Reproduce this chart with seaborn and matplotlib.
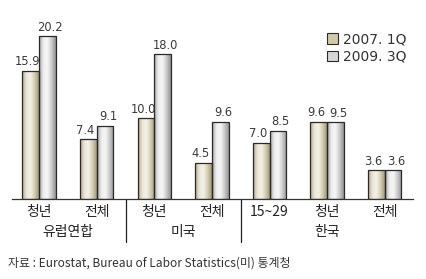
import matplotlib
matplotlib.use("Agg")
import matplotlib.pyplot as plt
import matplotlib.transforms as mtransforms
from matplotlib.colors import LinearSegmentedColormap
from matplotlib.patches import Patch
import numpy as np
import pandas as pd
import seaborn as sns

sns.set_style("white")
plt.rcParams['font.family'] = ['Noto Sans CJK KR', 'DejaVu Sans']

categories = ["청년", "전체", "청년", "전체", "15~29", "청년", "전체"]
cat_keys = ["EU_youth", "EU_all", "US_youth", "US_all", "KR_1529", "KR_youth", "KR_all"]
series = ["2007. 1Q", "2009. 3Q"]
values_2007 = [15.9, 7.4, 10.0, 4.5, 7.0, 9.6, 3.6]
values_2009 = [20.2, 9.1, 18.0, 9.6, 8.5, 9.5, 3.6]
groups = ["유럽연합", "미국", "한국"]
source = "자료 : Eurostat, Bureau of Labor Statistics(미) 통계청"

df = pd.DataFrame({
    "cat": cat_keys * 2,
    "series": [series[0]] * 7 + [series[1]] * 7,
    "value": values_2007 + values_2009,
})

W, H = 427, 279
fig = plt.figure(figsize=(W / 100, H / 100), dpi=100)
ax = fig.add_axes([12 / W, (H - 199) / H, (413 - 12) / W, 199 / H])

base_cols = ["#d9d2bc", "#cfcfcf"]
sns.barplot(data=df, x="cat", y="value", hue="series", order=cat_keys,
            hue_order=series, palette=base_cols, width=0.58, ax=ax,
            edgecolor="#2a2a2a", linewidth=0.9, legend=False, errorbar=None)

ax.set_xlim(-0.47, 6.49)
ax.set_ylim(0, 24.7)

cmaps = [
    LinearSegmentedColormap.from_list("beige", ["#b0a584", "#ebe6d8", "#f4f1e8", "#d5cdb3", "#a49879"]),
    LinearSegmentedColormap.from_list("gray", ["#a2a2a2", "#eeeeee", "#f7f7f7", "#cacaca", "#929292"]),
]
grad = np.linspace(0, 1, 64).reshape(1, -1)
bars = [p for p in ax.patches]
for i, p in enumerate(bars):
    s = 0 if i < 7 else 1
    x0, y0 = p.get_x(), p.get_y()
    w, h = p.get_width(), p.get_height()
    im = ax.imshow(grad, cmap=cmaps[s], extent=[x0, x0 + w, y0, y0 + h],
                   aspect="auto", zorder=p.get_zorder() - 0.1, interpolation="bicubic")
    im.set_clip_path(p)
    p.set_facecolor("none")
    val = values_2007[i % 7] if s == 0 else values_2009[i % 7]
    ax.text(x0 + w / 2 + (-0.05 if s == 0 else 0.05), y0 + h + 0.3, f"{val:.1f}",
            ha="center", va="bottom", fontsize=8.3, color="#3a3a3a",
            family=["DejaVu Sans"])

ax.set_xticks(range(7))
ax.set_xticklabels(categories, fontsize=10, color="#222222")
ax.tick_params(axis="x", length=0, pad=4)
ax.set_yticks([])
ax.set_xlabel("")
ax.set_ylabel("")
for sp in ["top", "left", "right"]:
    ax.spines[sp].set_visible(False)
ax.spines["bottom"].set_color("#333333")
ax.spines["bottom"].set_linewidth(0.9)

trans = mtransforms.blended_transform_factory(ax.transData, ax.transAxes)
for xs in [1.5, 3.5]:
    ax.plot([xs, xs], [0, -43 / 199], transform=trans, color="#222222",
            lw=0.9, clip_on=False)
for gx, g in zip([0.5, 2.5, 5.0], groups):
    ax.text(gx, -33 / 199, g, transform=trans, ha="center", va="center",
            fontsize=10, color="#222222")

handles = [Patch(facecolor=c, edgecolor="#2a2a2a", linewidth=0.8) for c in ["#d2c9ad", "#d6d6d6"]]
leg = ax.legend(handles, series, loc="upper left", bbox_to_anchor=(0.755, 0.9),
                frameon=False, handlelength=0.75, handleheight=0.75,
                handletextpad=0.4, labelspacing=0.25, prop={"family": ["DejaVu Sans"], "size": 10})
for t in leg.get_texts():
    t.set_color("#333333")

fig.text(8 / W, 1 - 263 / H, source, fontsize=8.6, color="#333333", va="center", ha="left")

fig.savefig("out.png", dpi=100)
